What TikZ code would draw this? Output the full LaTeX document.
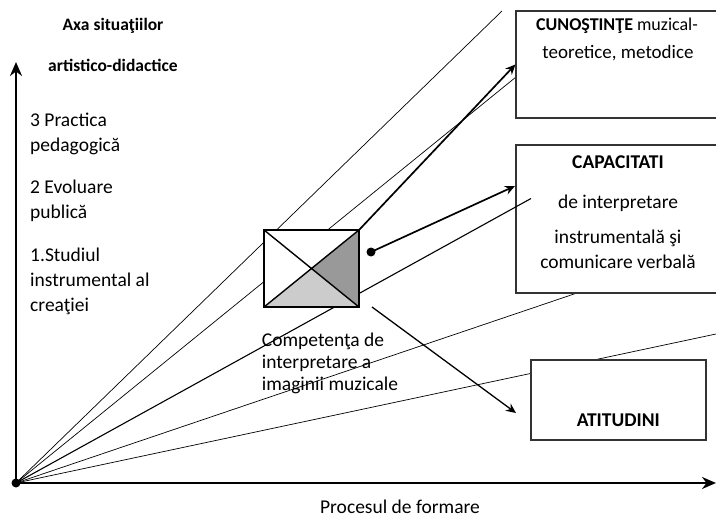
\documentclass[tikz,border=0pt]{standalone}
\usepackage{fontspec}
\setmainfont{Carlito}
\usetikzlibrary{arrows.meta,calc}
\begin{document}
\begin{tikzpicture}[x=1pt,y=-1pt,
  ray/.style={line width=0.7pt,black},
  raythick/.style={line width=1.1pt,black},
  axis/.style={line width=2.4pt,-{Stealth[length=14pt,width=12pt]}},
  bx/.style={rectangle,draw=black!80,line width=1.2pt,fill=white,inner sep=0pt},
  txt/.style={font=\fontsize{19.5}{25}\selectfont,inner sep=0pt},
  txtb/.style={font=\bfseries\fontsize{19.5}{25}\selectfont,inner sep=0pt},
  hd/.style={font=\bfseries\fontsize{17.5}{20}\selectfont,inner sep=0pt},
  arr/.style={line width=1.7pt,-{Stealth[length=10pt,width=9pt]}},
  dotnode/.style={circle,fill=black,inner sep=0pt,minimum size=9pt}]
\useasboundingbox (0,0) rectangle (716,519);
% origin
\node[dotnode] (o) at (16,483) {};
\coordinate (ytip) at (16,62);
\coordinate (xtip) at (716,483);
% ray ends
\coordinate (ea) at (502,11);
\coordinate (eb) at (516,77);
\coordinate (ec) at (531,198.5);
\coordinate (ed) at (577,293);
\coordinate (ee) at (716,334);
% rays under boxes
\draw[ray] (o.center) -- (ea);
\draw[ray] (o.center) -- (eb);
\draw[ray] (o.center) -- (ed);
\draw[ray] (o.center) -- (ee);
% boxes
\node[bx,minimum width=204pt,minimum height=107pt] (cun) at (618,64.5) {};
\node[bx,minimum width=204pt,minimum height=148pt] (cap) at (618,219) {};
\node[bx,minimum width=175pt,minimum height=80pt] (ati) at (618.5,400) {};
% ray C over the capacitati box
\draw[raythick] (o.center) -- (ec);
% central figure
\node[rectangle,fill=white,inner sep=0pt,minimum width=95pt,minimum height=77pt] (fig) at (311.5,268.5) {};
\fill[black!40] (fig.north east) -- (fig.center) -- (fig.south east) -- cycle;
\fill[black!20] (fig.south west) -- (fig.center) -- (fig.south east) -- cycle;
\draw[line width=1.4pt] (fig.north west) -- (fig.south east) (fig.north east) -- (fig.south west);
\draw[line width=1.7pt] (fig.north west) rectangle (fig.south east);
% axes
\draw[axis] (o.center) -- (ytip);
\draw[axis] (o.center) -- (xtip);
% arrows
\draw[arr] (fig.north east) -- (cun.west);
\node[dotnode] (dot) at (371,252) {};
\coordinate (capin) at (515,186);
\draw[arr] (dot.center) -- (capin);
\coordinate (as) at (372,307);
\coordinate (ae) at (516,413);
\draw[arr,line width=1.3pt] (as) -- (ae);
% texts
\node[hd] (h1) at (113,26) {Axa situaţiilor};
\node[hd] (h2) at (113,65) {artistico-didactice};
\node[txt,anchor=west,align=left] (l3) at (30,134) {3 Practica\\pedagogică};
\node[txt,anchor=west,align=left] (l2) at (30,201) {2 Evoluare\\publică};
\node[txt,anchor=west,align=left] (l1) at (30,281.7) {1.Studiul\\instrumental al\\creaţiei};
\node[font=\fontsize{19.5}{21.7}\selectfont,inner sep=0pt,anchor=west,align=left] (comp) at (261.7,363.3) {Competenţa de\\interpretare a\\imaginii muzicale};
\node[txt,font=\fontsize{18}{25}\selectfont] (t1) at (617,26) {\textbf{CUNOŞTINŢE} muzical-};
\node[txt,font=\fontsize{19}{25}\selectfont] (t2) at (618,53.3) {teoretice, metodice};
\node[txtb] (t3) at (618,161.7) {CAPACITATI};
\node[txt] (t4) at (618,203.3) {de interpretare};
\node[txt,align=center] (t5) at (618,249.2) {instrumentală şi\\comunicare verbală};
\node[txtb] (t6) at (618.3,420) {ATITUDINI};
\node[txt] (t7) at (400,507) {Procesul de formare};
\end{tikzpicture}
\end{document}
